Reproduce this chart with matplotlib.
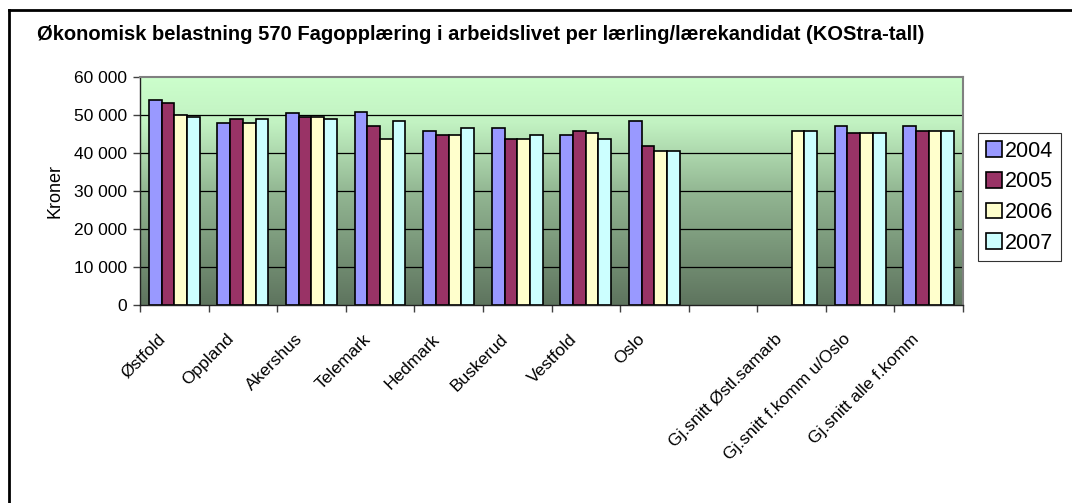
import matplotlib
matplotlib.use("Agg")
import matplotlib.pyplot as plt
import matplotlib.transforms as mtransforms
import numpy as np
from matplotlib.colors import LinearSegmentedColormap
from matplotlib.ticker import FuncFormatter
from matplotlib.lines import Line2D

plt.rcParams['font.family'] = ['Liberation Sans', 'DejaVu Sans']

categories = ["Østfold", "Oppland", "Akershus", "Telemark", "Hedmark", "Buskerud",
              "Vestfold", "Oslo", "", "Gj.snitt Østl.samarb", "Gj.snitt f.komm u/Oslo",
              "Gj.snitt alle f.komm"]
years = ["2004", "2005", "2006", "2007"]
v2004 = [54000, 48000, 50400, 50900, 45700, 46600, 44700, 48500, None, None, 47100, 47100]
v2005 = [53200, 49000, 49500, 47100, 44700, 43800, 45700, 41800, None, None, 45200, 45700]
v2006 = [50000, 48000, 49500, 43800, 44700, 43800, 45200, 40500, None, 45700, 45200, 45700]
v2007 = [49500, 49000, 49000, 48500, 46600, 44700, 43800, 40500, None, 45700, 45200, 45700]
series = [v2004, v2005, v2006, v2007]
colors = ["#9999FF", "#993366", "#FFFFCC", "#CCFFFF"]

fig = plt.figure(figsize=(10.72, 5.03), dpi=100)
ax = fig.add_axes([140 / 1072, 1 - 305 / 503, 823 / 1072, 228 / 503])

# gradient background of the plot area
cmap = LinearSegmentedColormap.from_list(
    "bg", [(0.0, "#5E745E"), (0.5, "#93B793"), (0.8, "#C2F2C2"), (1.0, "#CCFFCC")])
grad = np.linspace(0, 1, 256).reshape(-1, 1)
ax.imshow(grad, cmap=cmap, origin="lower", aspect="auto",
          extent=[0, len(categories), 0, 60000], zorder=0)

for y in range(10000, 60000, 10000):
    ax.axhline(y, color="black", lw=0.9, zorder=1)

w = 0.185
for j, (vals, c) in enumerate(zip(series, colors)):
    xs = [i + 0.5 + (j - 1.5) * w for i, v in enumerate(vals) if v is not None]
    hs = [v for v in vals if v is not None]
    ax.bar(xs, hs, width=w, color=c, edgecolor="black", linewidth=1.2, zorder=2)

ax.set_xlim(0, len(categories))
ax.set_ylim(0, 60000)
ax.set_yticks(range(0, 60001, 10000))
ax.yaxis.set_major_formatter(FuncFormatter(lambda v, p: f"{int(v):,}".replace(",", " ")))
ax.tick_params(axis="y", labelsize=12.5, length=5, width=1, color="#404040", pad=4)

ax.set_xticks(np.arange(len(categories)) + 0.5)
ax.set_xticklabels(categories, rotation=45, ha="right", va="top",
                   rotation_mode="anchor", fontsize=12.5)
ax.tick_params(axis="x", which="major", length=0, pad=19)
shift = mtransforms.ScaledTranslation(-0.17, 0, fig.dpi_scale_trans)
for lab in ax.get_xticklabels():
    lab.set_transform(lab.get_transform() + shift)
ax.set_xticks(np.arange(len(categories) + 1), minor=True)
ax.tick_params(axis="x", which="minor", length=5, width=1, color="#404040")

for s in ["top", "right"]:
    ax.spines[s].set_color("#808080")
    ax.spines[s].set_linewidth(1.5)
for s in ["left", "bottom"]:
    ax.spines[s].set_color("#202020")
    ax.spines[s].set_linewidth(1)

ax.set_ylabel("Kroner", fontsize=13, labelpad=8)

fig.text(37 / 1072, 1 - 34 / 503, "Økonomisk belastning 570 Fagopplæring i arbeidslivet per lærling/lærekandidat (KOStra-tall)",
         fontsize=14.5, fontweight="bold", va="center", ha="left")

handles = [plt.Rectangle((0, 0), 1, 1, facecolor=c, edgecolor="black", linewidth=1.2) for c in colors]
leg = fig.legend(handles, years, loc="upper left", bbox_to_anchor=(978 / 1072, 1 - 133 / 503),
                 fontsize=15.5, frameon=True, fancybox=False, handlelength=0.75, handleheight=0.75,
                 handletextpad=0.15, labelspacing=0.45, borderpad=0.35, borderaxespad=0)
leg.get_frame().set_edgecolor("black")
leg.get_frame().set_linewidth(0.8)

# outer chart border (top and left only visible)
fig.add_artist(Line2D([9 / 1072, 1], [1 - 10 / 503, 1 - 10 / 503], color="black", lw=2,
                      transform=fig.transFigure))
fig.add_artist(Line2D([9 / 1072, 9 / 1072], [0, 1 - 10 / 503], color="black", lw=2,
                      transform=fig.transFigure))

fig.savefig("out.png", dpi=100)
